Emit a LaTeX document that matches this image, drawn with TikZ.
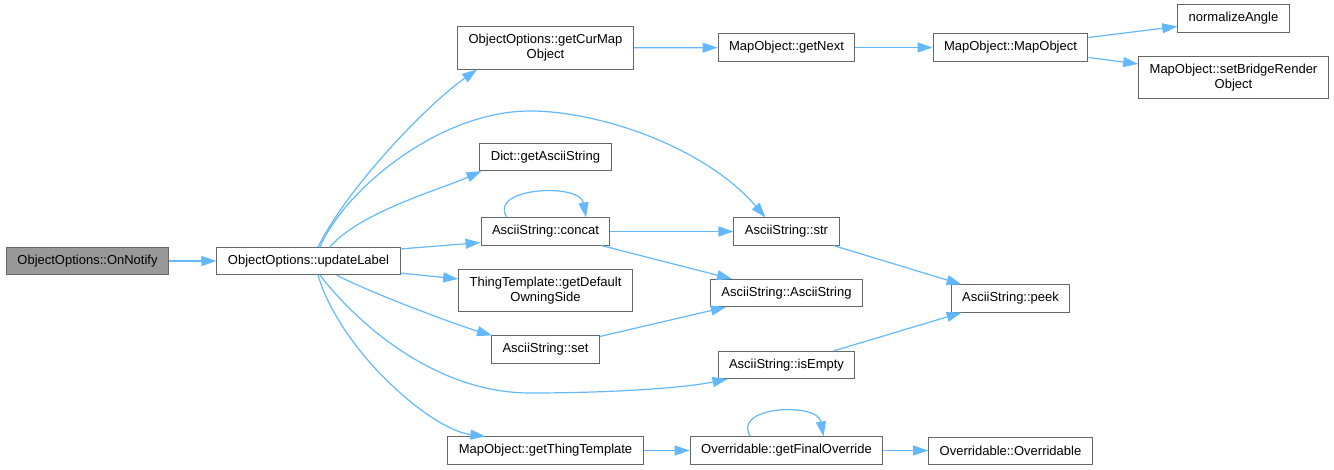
\documentclass[tikz,border=0pt]{standalone}
\usepackage{fontspec}
\setmainfont{Liberation Sans}
\usetikzlibrary{arrows.meta}
\definecolor{callblue}{HTML}{63B8FF}
\definecolor{nodegray}{HTML}{666666}
\definecolor{rootgray}{HTML}{999999}
\tikzset{
  >={Triangle[length=15pt,width=10pt]},
  my func/.style={
    draw=nodegray,
    fill=white,
    line width=1pt,
    rectangle,
    align=center,
    inner xsep=11pt,
    inner ysep=7.5pt,
    minimum height=27pt,
    font=\fontsize{13}{15}\selectfont
  },
  my root/.style={
    my func,
    fill=rootgray
  },
  my call/.style={
    ->,
    draw=callblue,
    line width=1.2pt
  },
  my graph/.style={
    x=1pt,
    y=-1pt
  }
}

\begin{document}
\begin{tikzpicture}[my graph]
\useasboundingbox (0,0) rectangle (1334,469);
% Caller and updateLabel
\node[my root] (on) at (87.5,261)  {ObjectOptions::OnNotify};
\node[my func] (ul) at (308.5,261) {ObjectOptions::updateLabel};
\draw[my call] (on) -- (ul);
% Direct callees of updateLabel
\node[my func] (gcmo) at (545.5,48)    {ObjectOptions::getCurMap\\Object};
\node[my func] (dict) at (545.5,157)   {Dict::getAsciiString};
\node[my func] (cc)   at (545.5,231.5) {AsciiString::concat};
\node[my func] (tt)   at (545.5,290.5) {ThingTemplate::getDefault\\OwningSide};
\node[my func] (aset) at (545.5,349.5) {AsciiString::set};
\node[my func] (gtt)  at (545.5,450.5) {MapObject::getThingTemplate};
% Second level
\node[my func] (gn)   at (786.5,47.5)  {MapObject::getNext};
\node[my func] (str)  at (786.5,231.5) {AsciiString::str};
\node[my func] (ctor) at (786.5,293)   {AsciiString::AsciiString};
\node[my func] (emp)  at (786.5,365)   {AsciiString::isEmpty};
\node[my func] (gfo)  at (786.5,450.5) {Overridable::getFinalOverride};
% Third and fourth level
\node[my func] (mo)   at (1010.5,47.5)  {MapObject::MapObject};
\node[my func] (peek) at (1010.5,298.5) {AsciiString::peek};
\node[my func] (ovr)  at (1010.5,450.5) {Overridable::Overridable};
\node[my func] (na)   at (1233.5,18.5)  {normalizeAngle};
\node[my func] (sbr)  at (1233.5,77.5)  {MapObject::setBridgeRender\\Object};
% Calls from updateLabel
\draw[my call] ([xshift=9.5pt]ul.north) .. controls +(30,-60) and +(-50,35) .. ([xshift=20pt]gcmo.south west);
\draw[my call] ([xshift=11.5pt]ul.north) .. controls +(25,-58) and +(-90,0) .. (530,111)
  .. controls +(70,0) and +(-60,-70) .. ([xshift=32pt]str.north west);
\draw[my call] ([xshift=21.5pt]ul.north) .. controls +(30,-35) and +(-40,18) .. ([xshift=2pt]dict.south west);
\draw[my call] ([yshift=-2pt]ul.north east) -- ([yshift=3pt]cc.south west);
\draw[my call] ([yshift=2pt]ul.south east) -- ([yshift=-10pt]tt.north west);
\draw[my call] ([xshift=28pt]ul.south) .. controls +(30,16) and +(-40,-12) .. ([xshift=1pt]aset.north west);
\draw[my call] ([xshift=11.5pt]ul.south) .. controls +(30,40) and +(-100,0) .. (530,393)
  .. controls +(70,0) and +(-50,10) .. ([xshift=10pt]emp.south west);
\draw[my call] ([xshift=9.5pt]ul.south) .. controls +(22,75) and +(-55,-7) .. ([xshift=38pt]gtt.north west);
% concat and set
\draw[my call] ([xshift=-38.5pt]cc.north) .. controls +(-20,-30) and +(-6,-35) .. ([xshift=40.5pt]cc.north);
\draw[my call] (cc) -- (str);
\draw[my call] ([xshift=56pt]cc.south) -- ([xshift=22pt]ctor.north west);
\draw[my call] ([yshift=-1pt]aset.north east) -- ([xshift=16pt]ctor.south west);
% getCurMapObject chain
\draw[my call] (gcmo) -- (gn);
\draw[my call] (gn) -- (mo);
\draw[my call] ([yshift=10pt]mo.east) -- ([yshift=-8pt]na.west);
\draw[my call] ([yshift=-10pt]mo.east) -- ([yshift=-8pt]sbr.north west);
% peek
\draw[my call] ([xshift=-6pt]str.south east) -- ([xshift=11pt]peek.north west);
\draw[my call] ([xshift=-22pt]emp.north east) -- ([xshift=11pt]peek.south west);
% getThingTemplate chain
\draw[my call] (gtt) -- (gfo);
\draw[my call] ([xshift=-36pt]gfo.north) .. controls +(-20,-30) and +(-6,-35) .. ([xshift=37pt]gfo.north);
\draw[my call] (gfo) -- (ovr);
\end{tikzpicture}
\end{document}
